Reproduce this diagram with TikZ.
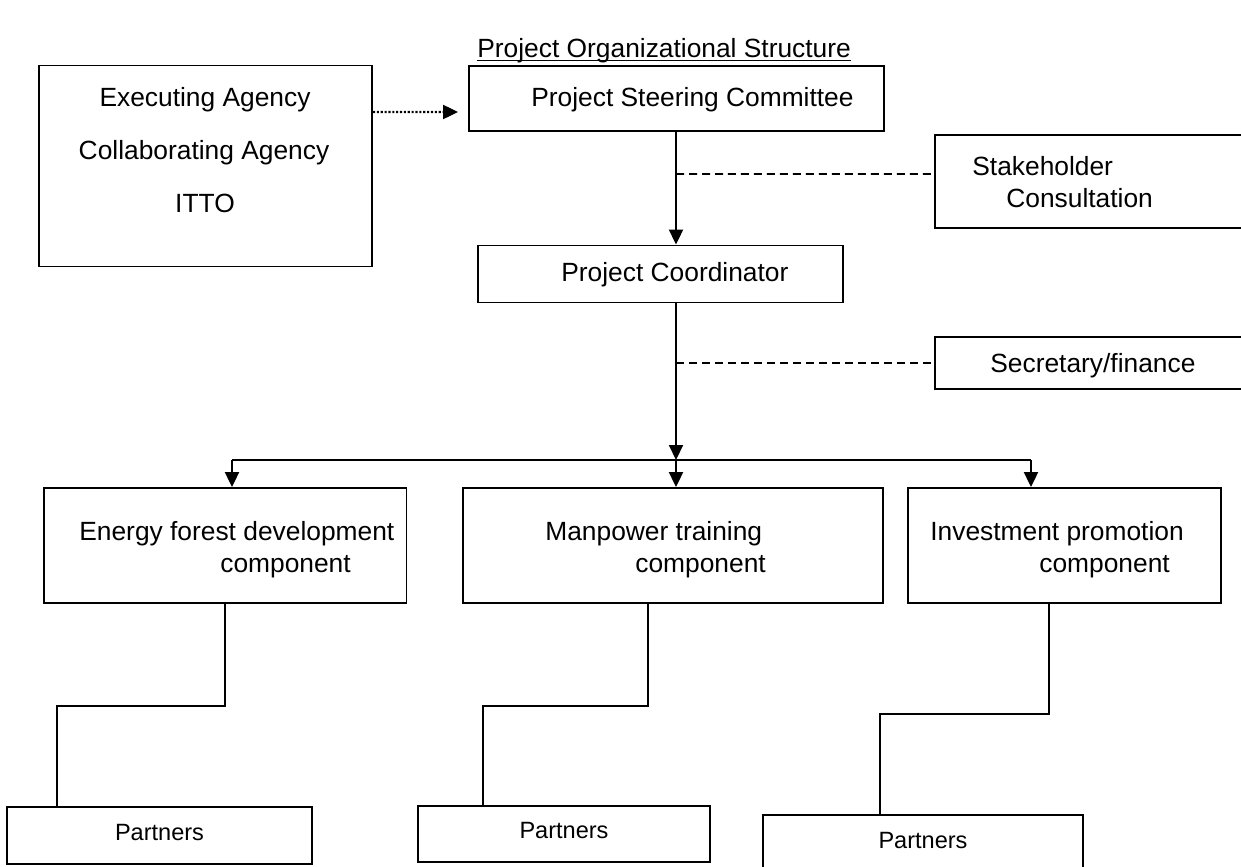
\documentclass[tikz,border=0pt]{standalone}
\usepackage{fontspec}
\setmainfont{Liberation Sans}
\usetikzlibrary{arrows.meta,positioning}

\begin{document}
\begin{tikzpicture}[x=0.02cm,y=-0.02cm,>={Triangle[length=0.3cm,width=0.28cm]},font=\fontsize{15pt}{18pt}\selectfont]

    % Define node styles
    \tikzstyle{box} = [draw, rectangle, line width=1.1pt, inner sep=0pt]
    \tikzstyle{txt} = [inner sep=0pt, anchor=base west]
    \tikzstyle{ptxt} = [inner sep=0pt, anchor=base, font=\fontsize{13.4pt}{16pt}\selectfont]
    \tikzstyle{link} = [line width=1.2pt]
    \tikzstyle{side} = [line width=0.9pt, dash pattern=on 0.16cm off 0.1cm]

    \useasboundingbox (0,0) rectangle (1241,866);

    % Title
    \node [txt] (title) at (477,57) {Project Organizational Structure};
    \draw [line width=0.8pt] ([yshift=-0.07cm]title.base west) -- ([yshift=-0.07cm]title.base east);

    % Draw nodes
    \node [box, minimum width=6.66cm, minimum height=4.02cm] (agency) at (205.5,166) {};
    \node [txt, anchor=base] (exec) at (205,106) {Executing Agency};
    \node [txt, anchor=base] (collab) at (204,159) {Collaborating Agency};
    \node [txt, anchor=base] (itto) at (205,212) {ITTO};

    \node [box, minimum width=8.3cm, minimum height=1.3cm] (steer) at (676.5,98.5) {};
    \node [txt] (steertxt) at (531,106) {Project Steering Committee};

    \node [box, minimum width=6.5cm, minimum height=1.86cm] (stake) at (1097.5,181.5) {};
    \node [txt] (staketxt) at (972,175) {Stakeholder};
    \node [txt] (constxt) at (1006,207) {Consultation};

    \node [box, minimum width=7.3cm, minimum height=1.14cm] (coord) at (660.5,274) {};
    \node [txt] (coordtxt) at (561,281) {Project Coordinator};

    \node [box, minimum width=6.5cm, minimum height=1.04cm] (secr) at (1097.5,363) {};
    \node [txt] (secrtxt) at (990,372) {Secretary/finance};

    \node [box, minimum width=7.26cm, minimum height=2.3cm] (energy) at (225,545.5) {};
    \node [txt] (energytxt) at (79,540) {Energy forest development};
    \node [txt] (energycomp) at (220,572) {component};

    \node [box, minimum width=8.4cm, minimum height=2.3cm] (manpower) at (673,545.5) {};
    \node [txt] (manpowertxt) at (545,540) {Manpower training};
    \node [txt] (manpowercomp) at (635,572) {component};

    \node [box, minimum width=6.26cm, minimum height=2.3cm] (invest) at (1064.5,545.5) {};
    \node [txt] (investtxt) at (930,540) {Investment promotion};
    \node [txt] (investcomp) at (1039,572) {component};

    \node [box, minimum width=6.1cm, minimum height=1.14cm] (partA) at (159.5,835.5) {};
    \node [ptxt] (partAtxt) at (159.5,840) {Partners};
    \node [box, minimum width=5.84cm, minimum height=1.12cm] (partB) at (564,834) {};
    \node [ptxt] (partBtxt) at (564,838) {Partners};
    \node [box, minimum width=6.4cm, minimum height=1.3cm] (partC) at (923,847.5) {};
    \node [ptxt] (partCtxt) at (923,848) {Partners};

    \coordinate (split) at (676,460);
    \coordinate (splitL) at (232,460);
    \coordinate (splitR) at (1031,460);

    % Draw arrows
    \draw [->, link, densely dotted] ([yshift=1.08cm]agency.east) -- ([xshift=-0.2cm,yshift=-0.27cm]steer.west);
    \draw [->, link] (split |- steer.south) -- (split |- coord.north);
    \draw [side] (split |- stake.west) ++(0,-7.5) -- ([yshift=0.15cm]stake.west);
    \draw [->, link] (split |- coord.south) -- (split);
    \draw [side] (split |- secr.west) -- (secr.west);
    \draw [link] (splitL) -- (splitR);
    \draw [->, link] (splitL) -- (splitL |- energy.north);
    \draw [->, link] (split) -- (split |- manpower.north);
    \draw [->, link] (splitR) -- (splitR |- invest.north);

    % Partner links
    \draw [link] (energy.south) -- ++(0,102) -| ([xshift=-2.05cm]partA.north);
    \draw [link] ([xshift=-0.5cm]manpower.south) -- ++(0,102) -| ([xshift=-1.62cm]partB.north);
    \draw [link] ([xshift=-0.31cm]invest.south) -- ++(0,110) -| ([xshift=-0.86cm]partC.north);

\end{tikzpicture}
\end{document}
